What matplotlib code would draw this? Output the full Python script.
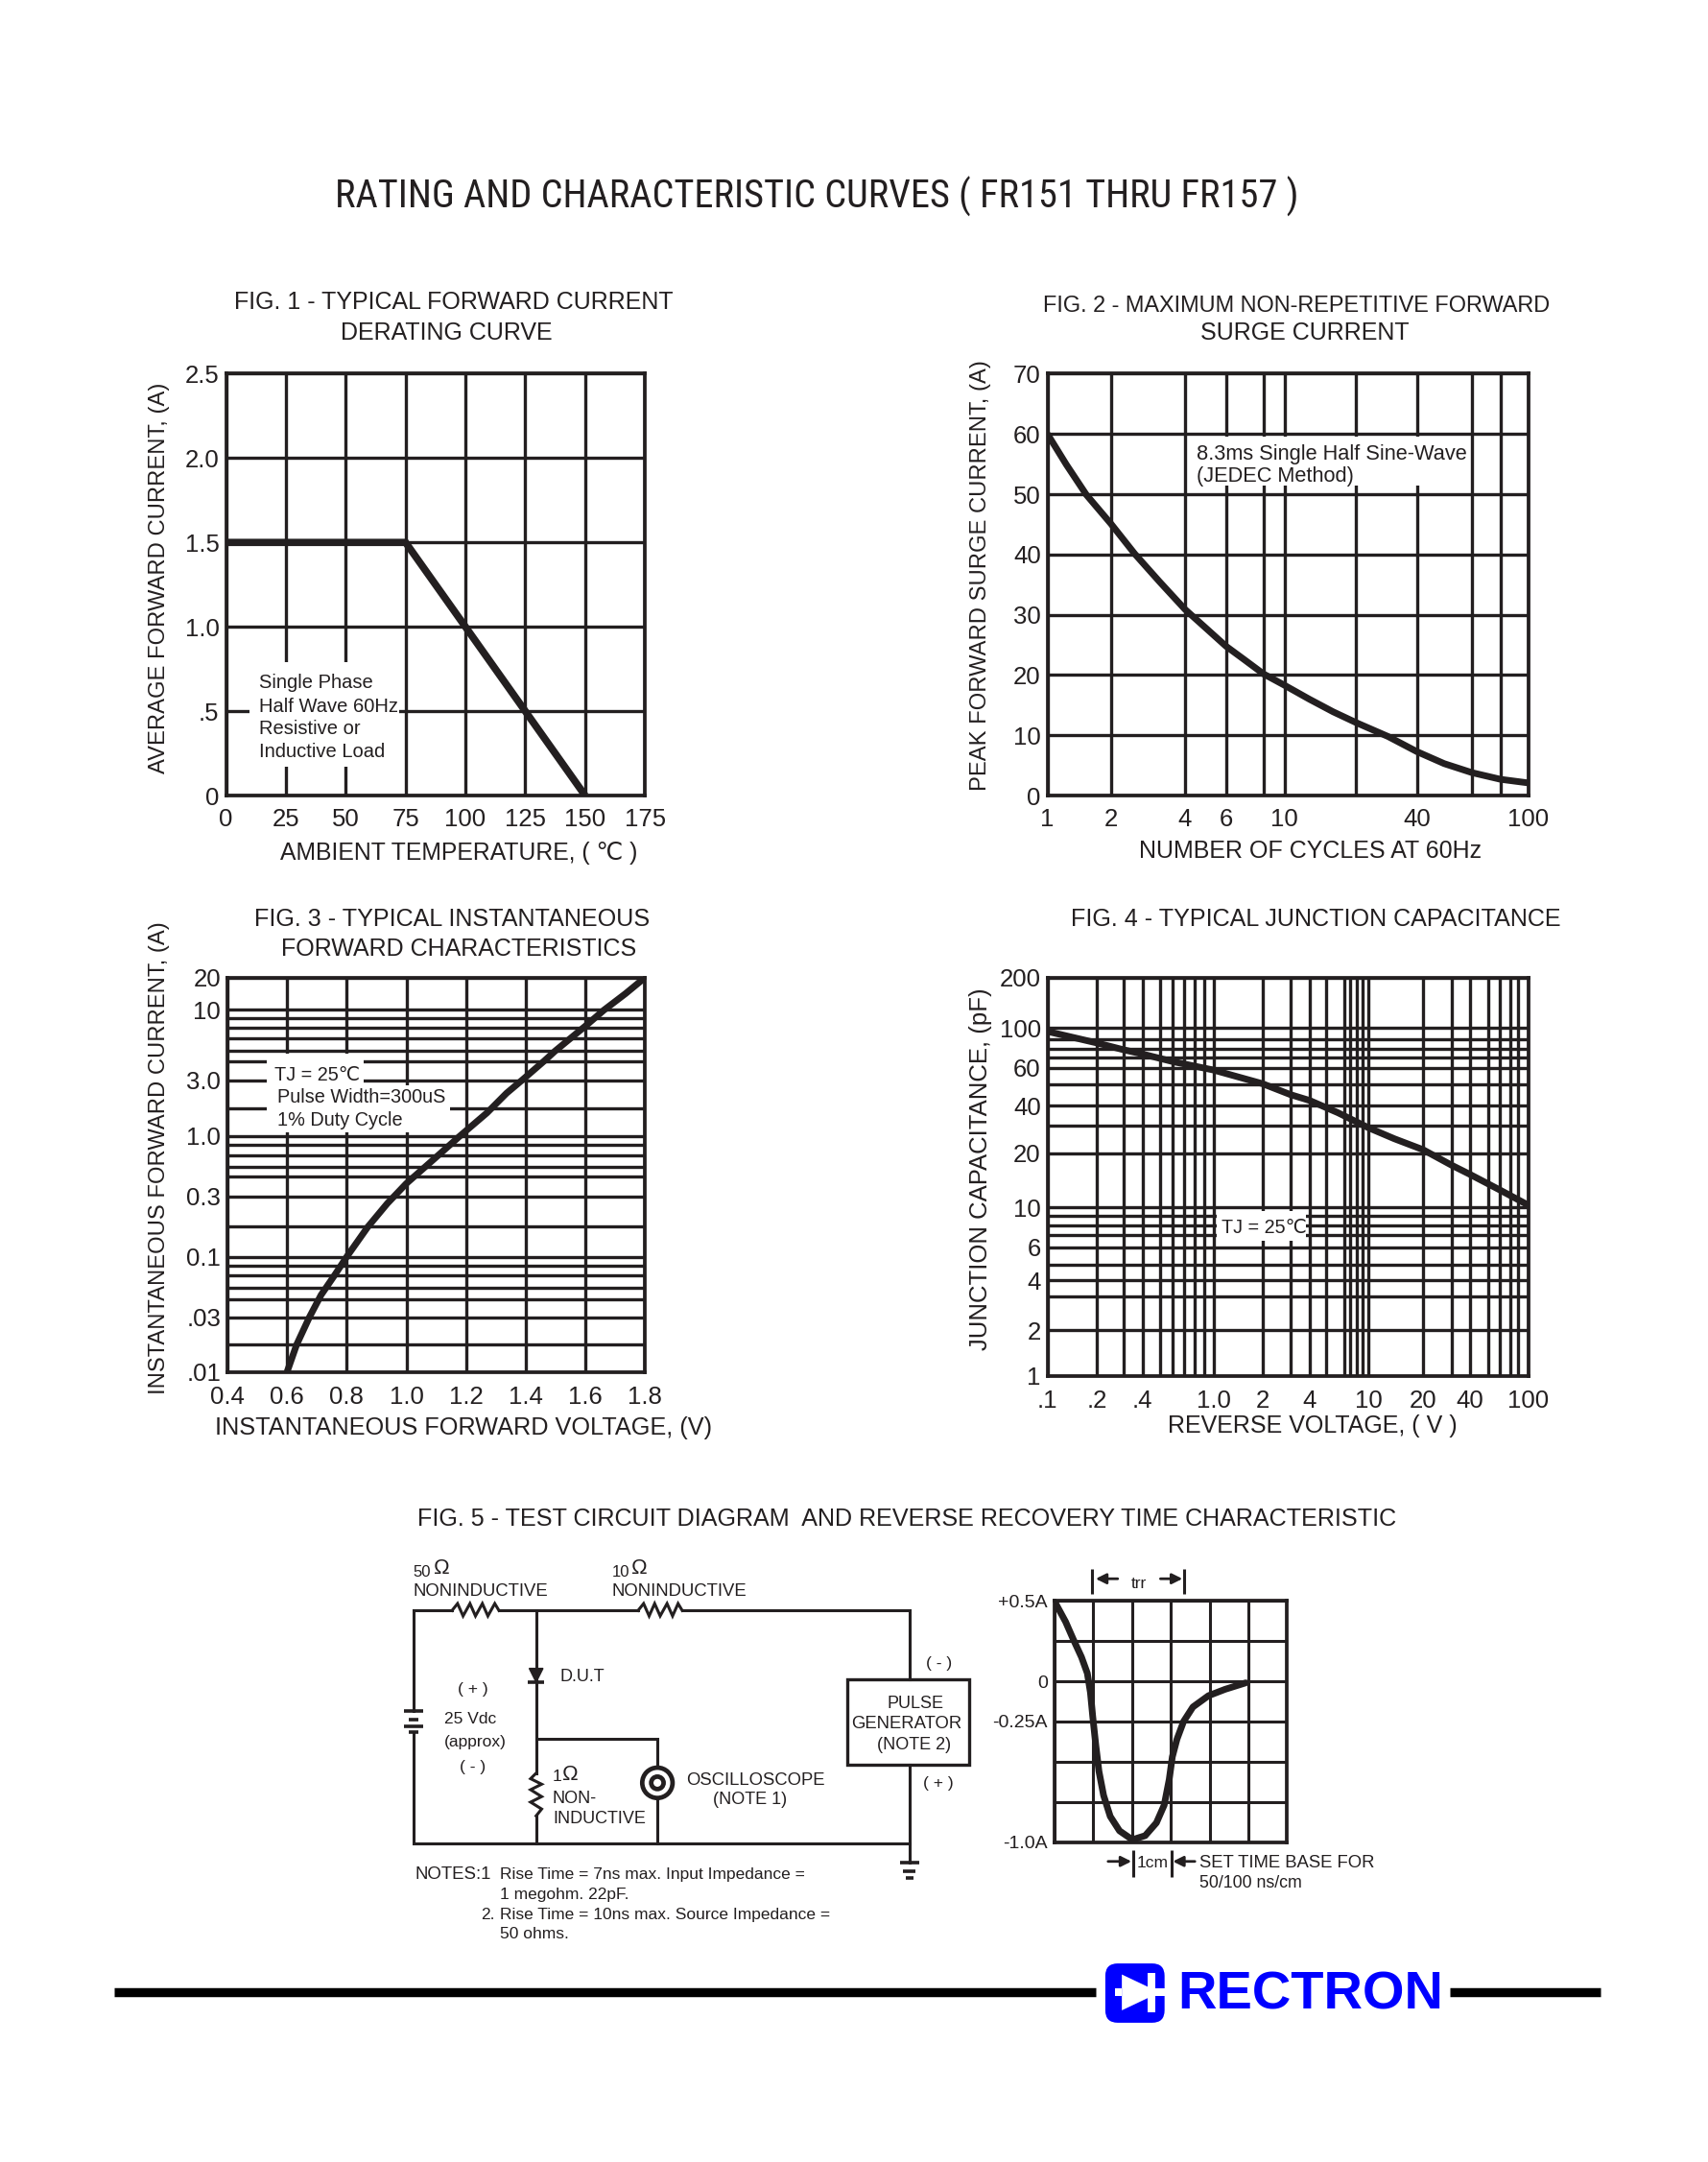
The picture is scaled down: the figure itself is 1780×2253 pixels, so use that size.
import matplotlib
matplotlib.use('Agg')
import matplotlib.pyplot as plt
import numpy as np
from matplotlib.patches import Rectangle, Circle, FancyBboxPatch, Polygon

plt.rcParams['font.family'] = ['Liberation Sans', 'DejaVu Sans']
INK = '#231f20'
BLUE = '#0000ff'

# Fig. 1 - derating curve
fig1_temp = [0, 75, 100, 125, 150]
fig1_current = [1.5, 1.5, 1.0, 0.5, 0.0]
fig1_xticks = [0, 25, 50, 75, 100, 125, 150, 175]
fig1_yticks = [0, 0.5, 1.0, 1.5, 2.0, 2.5]
fig1_ylabels = ['0', '.5', '1.0', '1.5', '2.0', '2.5']

# Fig. 2 - surge current, the printed paper is only roughly logarithmic
fig2_cycles = [1, 1.23, 1.53, 2, 2.5, 3.15, 4, 5.05, 6, 6.89, 8, 10, 12.7, 16, 20, 28.8, 40, 48.9, 60, 80, 100]
fig2_surge = [60, 54.9, 49.9, 45.1, 40.1, 35.5, 30.9, 27.4, 24.8, 22.6, 20.2, 18.3, 16, 13.9, 12.1, 9.8, 7.3, 5.3, 3.8, 2.7, 2.1]
fig2_xgrid = [1, 2, 4, 6, 8, 10, 20, 40, 60, 80, 100]
fig2_xpaper = [0, .132, .286, .371, .449, .493, .642, .768, .883, .942, 1]
fig2_xticks = [1, 2, 4, 6, 10, 40, 100]
fig2_yticks = [0, 10, 20, 30, 40, 50, 60, 70]

# Fig. 3 - forward characteristics
fig3_volt = [.6, .632, .675, .714, .76, .8, .871, .936, 1.0, 1.093, 1.179, 1.27, 1.336, 1.388, 1.462, 1.499, 1.604, 1.663, 1.735, 1.8]
fig3_amp = [.01, .02, .03, .0538, .07, .1, .2, .273, .417, .665, 1.0, 1.79, 2.49, 3.0, 4.05, 5.0, 7.3, 10, 14.2, 20]
fig3_xticks = [0.4, 0.6, 0.8, 1.0, 1.2, 1.4, 1.6, 1.8]
fig3_ygrid = [20, 10, 8, 7, 6, 5, 4, 3, 2, 1, .8, .7, .6, .5, .3, .2, .1, .08, .07, .06, .05, .03, .02, .01]
fig3_ypaper = [0, .082, .104, .128, .153, .186, .213, .26, .332, .402, .425, .45, .48, .504, .555,
               .632, .708, .731, .754, .787, .817, .861, .931, 1]
fig3_yticks = [20, 10, 3, 1, .3, .1, .03, .01]
fig3_ylabels = ['20', '10', '3.0', '1.0', '0.3', '0.1', '.03', '.01']

# Fig. 4 - junction capacitance
fig4_volt = [.1, .138, .2, .3, .4, .6, 1, 2, 3, 4, 5.64, 10, 13.9, 20, 30, 40, 60, 100]
fig4_cap = [97, 92.2, 85.9, 78.6, 73.8, 66, 58.7, 50.4, 44.9, 42.2, 36.1, 29.2, 24.8, 21.1, 17.2, 15.3, 12.5, 10.3]
fig4_xgrid = [.1, .2, .3, .4, .5, .6, .7, .8, .9, 1, 2, 3, 4, 5, 6, 7, 8, 9, 10, 20, 30, 40, 50, 60, 70, 80, 100]
fig4_xpaper = [0, .103, .158, .198, .235, .261, .284, .307, .326, .345, .447, .505, .545, .579, .617, .630,
               .643, .655, .667, .781, .84, .878, .916, .941, .962, .979, 1]
fig4_xticks = [.1, .2, .4, 1, 2, 4, 10, 20, 40, 100]
fig4_xlabels = ['.1', '.2', '.4', '1.0', '2', '4', '10', '20', '40', '100']
fig4_ygrid = [200, 100, 90, 80, 70, 60, 50, 40, 30, 20, 10, 9, 8, 7, 6, 5, 4, 3, 2, 1]
fig4_ypaper = [0, .127, .155, .178, .201, .227, .268, .321, .372, .441, .577, .598, .621, .645, .677, .72,
               .76, .799, .885, 1]
fig4_yticks = [200, 100, 60, 40, 20, 10, 6, 4, 2, 1]

# Fig. 5 - reverse recovery waveform (cm, A)
scope_cm = [.02, .29, .49, .70, .85, .93, .99, 1.07, 1.15, 1.27, 1.44, 1.68, 2.01, 2.34, 2.63, 2.83, 2.96, 3.04, 3.16, 3.33, 3.57, 3.97, 4.40, 4.93]
scope_amp = [.49, .37, .26, .15, .05, -.07, -.22, -.40, -.56, -.71, -.84, -.93, -.985, -.96, -.88, -.77, -.61, -.47, -.36, -.25, -.16, -.09, -.05, -.01]
scope_ticks = [.5, 0, -.25, -1.0]
scope_labels = ['+0.5A', '0', '-0.25A', '-1.0A']

# circuit wires, schematic units
wires = [
    ([300, 300, 328], [1241, 1168, 1168]),
    ([362, 463], [1168, 1168]),
    ([495, 660, 660], [1168, 1168, 1218]),
    ([389, 389], [1168, 1286]),
    ([389, 389], [1317, 1337]),
    ([389, 477, 477], [1261, 1261, 1337]),
    ([300, 300, 660], [1256, 1337, 1337]),
    ([660, 660], [1280, 1351]),
]
res_top1 = ([328, 332, 336, 341, 345, 350, 354, 359, 362], [1168, 1163, 1172, 1163, 1172, 1163, 1172, 1163, 1168])
res_top2 = ([463, 467, 471, 475, 479, 484, 488, 492, 495], [1168, 1163, 1172, 1163, 1172, 1163, 1172, 1163, 1168])
res_side = ([389, 385, 393, 385, 393, 385, 393, 389], [1286, 1290, 1294, 1298, 1303, 1307, 1312, 1317])
bars = [(300, 7, 1241), (300, 3.5, 1247), (300, 7, 1252), (300, 3.5, 1256),
        (660, 7, 1351), (660, 4.5, 1357), (660, 2.5, 1362), (389, 6, 1220)]


def paper_scale(values, paper):
    # chart paper: log between the printed grid lines, measured positions at the lines
    order = np.argsort(values)
    lv = np.log10(np.array(values, dtype=float)[order])
    pv = np.array(paper, dtype=float)[order]

    def forward(x):
        return np.interp(np.log10(np.clip(x, 1e-9, None)), lv, pv)

    def inverse(p):
        return 10 ** np.interp(p, pv, lv)

    return forward, inverse


fig = plt.figure(figsize=(17.81, 22.53), dpi=100)


def make_axes(l, r, t, b, xpad=9):
    ax = fig.add_axes([l / 1240, 1 - b / 1568, (r - l) / 1240, (b - t) / 1568])
    ax.set_axisbelow(True)
    for s in ax.spines.values():
        s.set_linewidth(2.7)
        s.set_color(INK)
    ax.tick_params(which='both', length=0, labelsize=18.5, labelcolor=INK)
    ax.tick_params(axis='x', pad=xpad)
    ax.tick_params(axis='y', pad=5)
    return ax


def finish(ax, xlabel, xc, ylabel, yc, l, r, t, b, xsize=18, ysize=17.1, lw=2.4):
    ax.grid(which='both', color=INK, linewidth=lw)
    ax.set_xlabel(xlabel, fontsize=xsize, color=INK)
    ax.xaxis.set_label_coords((xc[0] - l) / (r - l), 1 - (xc[1] + 1.5 - t) / (b - t))
    ax.xaxis.label.set_verticalalignment('center')
    ax.set_ylabel(ylabel, fontsize=ysize, color=INK)
    ax.yaxis.set_label_coords((yc[0] + 2.5 - l) / (r - l), 1 - (yc[1] - t) / (b - t))
    ax.yaxis.label.set_verticalalignment('center')


def white_box(ax, x0, x1, y0, y1):
    ax.add_patch(Rectangle((x0, y0), x1 - x0, y1 - y0, transform=ax.transAxes, facecolor='white',
                           edgecolor='none', zorder=1))


# FIG 1
ax1 = make_axes(164, 468, 271, 577)
ax1.plot(fig1_temp, fig1_current, color=INK, lw=5.5, solid_capstyle='butt', solid_joinstyle='miter')
ax1.set_xlim(0, 175)
ax1.set_ylim(0, 2.5)
ax1.set_xticks(fig1_xticks, labels=[str(v) for v in fig1_xticks])
ax1.set_yticks(fig1_yticks, labels=fig1_ylabels)
white_box(ax1, .056, .413, .068, .316)
finish(ax1, 'AMBIENT TEMPERATURE, ( \u2103 )', (333, 617), 'AVERAGE FORWARD CURRENT, (A)', (113, 419), 164, 468, 271, 577, xsize=17.8)

# FIG 2
ax2 = make_axes(760, 1109, 271, 577)
f, g = paper_scale(fig2_xgrid, fig2_xpaper)
ax2.set_xscale('function', functions=(f, g))
ax2.plot(fig2_cycles, fig2_surge, color=INK, lw=5, solid_capstyle='butt', solid_joinstyle='round')
ax2.set_xlim(1, 100)
ax2.set_ylim(0, 70)
ax2.set_xticks(fig2_xgrid, minor=True)
ax2.set_xticks(fig2_xticks, labels=[str(v) for v in fig2_xticks])
ax2.xaxis.set_minor_formatter(plt.NullFormatter())
ax2.set_yticks(fig2_yticks, labels=[str(v) for v in fig2_yticks])
white_box(ax2, .295, .876, .734, .85)
finish(ax2, 'NUMBER OF CYCLES AT 60Hz', (951, 616), 'PEAK FORWARD SURGE CURRENT, (A)', (709, 417), 760, 1109, 271, 577)

# FIG 3
ax3 = make_axes(165, 468, 709, 995, xpad=10)
f, g = paper_scale(fig3_ygrid, [1 - p for p in fig3_ypaper])
ax3.set_yscale('function', functions=(f, g))
ax3.plot(fig3_volt, fig3_amp, color=INK, lw=5, solid_capstyle='butt', solid_joinstyle='round')
ax3.set_xlim(0.4, 1.8)
ax3.set_ylim(0.01, 20)
ax3.set_xticks(fig3_xticks, labels=['%.1f' % v for v in fig3_xticks])
ax3.set_yticks(fig3_ygrid, minor=True)
ax3.set_yticks(fig3_yticks, labels=fig3_ylabels)
ax3.yaxis.set_minor_formatter(plt.NullFormatter())
white_box(ax3, .095, .327, .608, .807)
white_box(ax3, .327, .533, .608, .728)
finish(ax3, 'INSTANTANEOUS FORWARD VOLTAGE, (V)', (336, 1034), 'INSTANTANEOUS FORWARD CURRENT, (A)', (113, 840), 165, 468, 709, 995, xsize=18.2)

# FIG 4
ax4 = make_axes(760, 1109, 709, 998, xpad=10)
f, g = paper_scale(fig4_xgrid, fig4_xpaper)
ax4.set_xscale('function', functions=(f, g))
f, g = paper_scale(fig4_ygrid, [1 - p for p in fig4_ypaper])
ax4.set_yscale('function', functions=(f, g))
ax4.plot(fig4_volt, fig4_cap, color=INK, lw=5, solid_capstyle='butt', solid_joinstyle='round')
ax4.set_xlim(.1, 100)
ax4.set_ylim(1, 200)
ax4.set_xticks(fig4_xgrid, minor=True)
ax4.set_xticks(fig4_xticks, labels=fig4_xlabels)
ax4.set_yticks(fig4_ygrid, minor=True)
ax4.set_yticks(fig4_yticks, labels=[str(v) for v in fig4_yticks])
ax4.xaxis.set_minor_formatter(plt.NullFormatter())
ax4.yaxis.set_minor_formatter(plt.NullFormatter())
white_box(ax4, .351, .537, .339, .413)
finish(ax4, 'REVERSE VOLTAGE, ( V )', (952, 1033), 'JUNCTION CAPACITANCE, (pF)', (709, 848), 760, 1109, 709, 998, ysize=18.5)

# FIG 5 scope
ax5 = make_axes(765, 934, 1161, 1336)
ax5.plot(scope_cm, scope_amp, color=INK, lw=5, solid_capstyle='round', solid_joinstyle='round')
ax5.set_xlim(0, 6)
ax5.set_ylim(-1, .5)
ax5.set_xticks(range(7), labels=[''] * 7)
ax5.set_yticks(np.arange(-1, .75, .25), minor=True)
ax5.set_yticks(scope_ticks, labels=scope_labels, fontsize=14)
ax5.yaxis.set_minor_formatter(plt.NullFormatter())
ax5.grid(which='both', color=INK, linewidth=2.2)

# everything else goes on an overlay in reference units
ov = fig.add_axes([0, 0, 1, 1], zorder=5)
ov.set_xlim(0, 1240)
ov.set_ylim(1568, 0)
ov.axis('off')


def t(x, y, s, size=13, ha='left', **kw):
    return ov.text(x, y + 1.5, s, fontsize=size, ha=ha, va='center', color=kw.pop('color', INK), zorder=4, **kw)


# title is set in a narrow face if one is there, then sized to the printed width
title = t(593, 141, 'RATING AND CHARACTERISTIC CURVES ( FR151 THRU FR157 )', size=31, ha='center',
          family=['Noto Sans ExtraCondensed', 'Noto Sans Condensed', 'Liberation Sans Narrow',
                  'Roboto Condensed', 'Liberation Sans'])
w = title.get_window_extent(fig.canvas.get_renderer()).width
title.set_fontsize(31 * (699 * 1781 / 1240) / w)

t(329, 218, 'FIG. 1 - TYPICAL FORWARD CURRENT', size=18, ha='center')
t(324, 240, 'DERATING CURVE', size=18, ha='center')
t(941, 220, 'FIG. 2 - MAXIMUM NON-REPETITIVE FORWARD', size=16.9, ha='center')
t(947, 240, 'SURGE CURRENT', size=18, ha='center')
t(328, 665, 'FIG. 3 - TYPICAL INSTANTANEOUS', size=18.1, ha='center')
t(333, 687, 'FORWARD CHARACTERISTICS', size=18, ha='center')
t(955, 665, 'FIG. 4 - TYPICAL JUNCTION CAPACITANCE', size=18.1, ha='center')
t(658, 1100, 'FIG. 5 - TEST CIRCUIT DIAGRAM  AND REVERSE RECOVERY TIME CHARACTERISTIC', size=18.1, ha='center')

for y, s in zip([494, 511, 527, 544], ['Single Phase', 'Half Wave 60Hz', 'Resistive or', 'Inductive Load']):
    t(188, y, s, size=14.5)
t(868, 328, '8.3ms Single Half Sine-Wave', size=15.7)
t(868, 344, '(JEDEC Method)', size=15.7)
t(199, 778, 'TJ = 25\u2103', size=14.3)
t(201, 794, 'Pulse Width=300uS', size=14.3)
t(201, 811, '1% Duty Cycle', size=14.3)
t(886, 889, 'TJ = 25\u2103', size=14.2)

for xs, ys in wires + [res_top1, res_top2, res_side]:
    ov.plot(xs, ys, color=INK, lw=2.2, solid_capstyle='projecting', solid_joinstyle='miter')
for cx, hw, y in bars:
    ov.plot([cx - hw, cx + hw], [y, y], color=INK, lw=2.6, solid_capstyle='butt')
ov.add_patch(Polygon([(384, 1210), (394, 1210), (389, 1220)], facecolor=INK, edgecolor=INK))
ov.add_patch(Rectangle((615, 1218), 88, 62, facecolor='white', edgecolor=INK, lw=2.4))
ov.add_patch(Circle((477, 1293), 11, facecolor='white', edgecolor=INK, lw=3.4, zorder=3))
ov.add_patch(Circle((477, 1293), 4.5, facecolor='white', edgecolor=INK, lw=3.4, zorder=3))

t(300, 1139, '50', size=12)
t(315, 1136, '\u03a9', size=16)
t(444, 1139, '10', size=12)
t(458, 1136, '\u03a9', size=16)
t(300, 1153, 'NONINDUCTIVE', size=13.3)
t(444, 1153, 'NONINDUCTIVE', size=13.3)
t(406, 1215, 'D.U.T', size=13)
t(343, 1224, '( + )', size=12.5, ha='center')
t(341, 1245, '25 Vdc', size=12.5, ha='center')
t(345, 1262, '(approx)', size=12.5, ha='center')
t(343, 1280, '( - )', size=12.5, ha='center')
t(401, 1287, '1', size=12.5)
t(408, 1286, '\u03a9', size=16)
t(401, 1303, 'NON-', size=13)
t(401, 1318, 'INDUCTIVE', size=13)
t(498, 1290, 'OSCILLOSCOPE', size=13.3)
t(544, 1304, '(NOTE 1)', size=13, ha='center')
t(681, 1205, '( - )', size=12.5, ha='center')
t(681, 1292, '( + )', size=12.5, ha='center')
t(664, 1234, 'PULSE', size=13, ha='center')
t(658, 1249, 'GENERATOR', size=13.3, ha='center')
t(663, 1264, '(NOTE 2)', size=13, ha='center')
t(301, 1358, 'NOTES:1', size=13.4)
t(363, 1358, 'Rise Time = 7ns max. Input Impedance =', size=12.5)
t(363, 1373, '1 megohm. 22pF.', size=12.5)
t(349, 1387, '2.', size=12.5)
t(363, 1387, 'Rise Time = 10ns max. Source Impedance =', size=12.5)
t(363, 1401, '50 ohms.', size=12.5)

# scope dimension marks
for x, y0, y1 in [(792, 1138, 1156), (859, 1138, 1156), (822, 1342, 1361), (850, 1342, 1361)]:
    ov.plot([x, x], [y0, y1], color=INK, lw=2.2, solid_capstyle='butt')
for x0, x1, y in [(811, 795, 1145), (842, 858, 1145), (804, 821, 1350), (867, 851, 1350)]:
    ov.annotate('', xy=(x1, y), xytext=(x0, y), arrowprops=dict(arrowstyle='-|>', color=INK, lw=2, mutation_scale=16, shrinkA=0, shrinkB=0))
t(826, 1147, 'trr', size=12.5, ha='center')
t(836, 1350, '1cm', size=12.5, ha='center')
t(870, 1350, 'SET TIME BASE FOR', size=13.3)
t(870, 1364, '50/100 ns/cm', size=12.8)

# footer
ov.plot([83, 795], [1445, 1445], color='black', lw=6.8, solid_capstyle='butt')
ov.plot([1052, 1161], [1445, 1445], color='black', lw=6.8, solid_capstyle='butt')
ov.add_patch(FancyBboxPatch((802, 1424), 43, 43, boxstyle='round,pad=0,rounding_size=9', facecolor=BLUE, edgecolor='none'))
ov.add_patch(Polygon([(814, 1432), (833, 1441), (833, 1449), (814, 1458)], facecolor='white', edgecolor='none'))
ov.add_patch(Rectangle((833, 1431), 5.5, 28.5, facecolor='white', edgecolor='none'))
ov.add_patch(Rectangle((809, 1442), 5, 5.5, facecolor='white', edgecolor='none'))
ov.add_patch(Rectangle((838.5, 1442), 6.5, 5.5, facecolor='white', edgecolor='none'))
ov.text(950.5, 1447, 'RECTRON', fontsize=40.3, fontweight='bold', color=BLUE, ha='center', va='center')

fig.savefig('out.png', dpi=100, facecolor='white')
